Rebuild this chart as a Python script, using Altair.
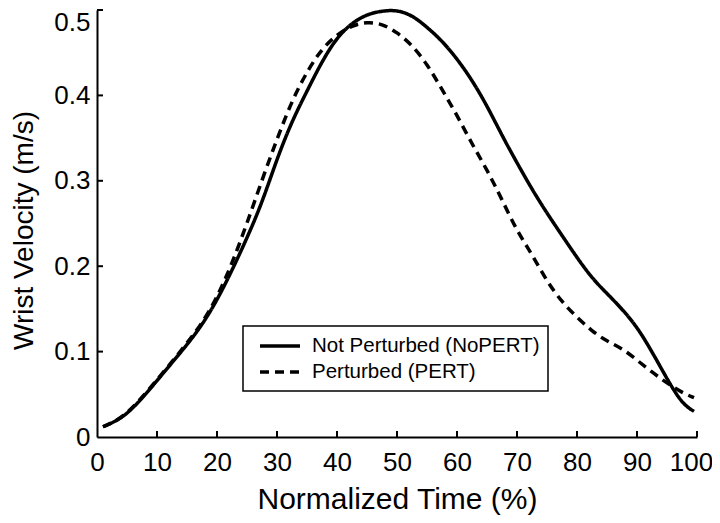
import altair as alt
import pandas as pd

# ---- data ----
series_names = ["Not Perturbed (NoPERT)", "Perturbed (PERT)"]

time_nopert = [1, 3, 5, 7.5, 10, 12.5, 15, 17.5, 20, 22.5, 25, 27.5, 30, 32.5, 35, 37.5,
               40, 42.5, 45, 47.5, 50, 52.5, 55, 57.5, 60, 62.5, 65, 67.5, 70, 72.5, 75,
               77.5, 80, 82.5, 85, 87.5, 90, 92.5, 95, 97.5, 99.5]
vel_nopert = [0.012, 0.018, 0.027, 0.045, 0.066, 0.087, 0.108, 0.131, 0.160, 0.195, 0.233,
              0.274, 0.326, 0.370, 0.405, 0.440, 0.468, 0.485, 0.495, 0.499, 0.500, 0.494,
              0.480, 0.464, 0.443, 0.418, 0.388, 0.353, 0.321, 0.290, 0.262, 0.236, 0.210,
              0.186, 0.168, 0.150, 0.129, 0.100, 0.068, 0.039, 0.030]

time_pert = [1, 3, 5, 7.5, 10, 12.5, 15, 17.5, 20, 22.5, 25, 27.5, 30, 32.5, 35, 37.5,
             40, 42.5, 45, 47.5, 50, 52.5, 55, 57.5, 60, 62.5, 65, 67.5, 70, 72.5, 75,
             77.5, 80, 82.5, 85, 87.5, 90, 92.5, 95, 97.5, 99.5]
vel_pert = [0.012, 0.018, 0.028, 0.046, 0.067, 0.088, 0.110, 0.133, 0.163, 0.203, 0.250,
            0.301, 0.349, 0.394, 0.428, 0.455, 0.471, 0.482, 0.486, 0.484, 0.474, 0.459,
            0.437, 0.407, 0.377, 0.343, 0.313, 0.278, 0.241, 0.214, 0.182, 0.158, 0.140,
            0.124, 0.112, 0.104, 0.090, 0.076, 0.063, 0.052, 0.046]

x_ticks = [0, 10, 20, 30, 40, 50, 60, 70, 80, 90, 100]
y_ticks = [0, 0.1, 0.2, 0.3, 0.4, 0.5]

df = pd.concat([
    pd.DataFrame({"t": time_nopert, "v": vel_nopert, "series": series_names[0]}),
    pd.DataFrame({"t": time_pert, "v": vel_pert, "series": series_names[1]}),
])

FONT = "Liberation Sans"
W, H = 600, 427

x_scale = alt.Scale(domain=[0, 100], nice=False, zero=False)
y_scale = alt.Scale(domain=[0, 0.5], nice=False)

x_axis = alt.Axis(values=x_ticks, title="Normalized Time (%)", labelPadding=12,
                  labelFontSize=26,
                  labelOffset={"condition": {"test": "datum.value >= 100", "value": -6},
                               "value": 0},
                  titleY=71, titleBaseline="alphabetic")
y_axis = alt.Axis(values=y_ticks, title="Wrist Velocity (m/s)", labelPadding=7,
                  labelFontSize=26,
                  labelExpr="datum.value == 0 ? '0' : format(datum.value, '.1f')",
                  labelOffset={"condition": {"test": "datum.value >= 0.5", "value": 12},
                               "value": 0},
                  titleX=-65, titleY=220, titleFontSize=28, titleBaseline="alphabetic")

lines = alt.Chart(df).mark_line(color="black", strokeWidth=3.5, interpolate="basis").encode(
    x=alt.X("t:Q", scale=x_scale, axis=x_axis),
    y=alt.Y("v:Q", scale=y_scale, axis=y_axis),
    strokeDash=alt.StrokeDash(
        "series:N",
        scale=alt.Scale(domain=series_names, range=[[1, 0], [9, 6]]),
        legend=alt.Legend(title=None, orient="none", legendX=146, legendY=316,
                          strokeColor="black", padding=8, symbolOffset=17,
                          symbolType="M-2,0H2", symbolSize=400, symbolStrokeWidth=3.5,
                          symbolStrokeColor="black", labelFont=FONT, labelFontSize=20.5,
                          labelColor="black", labelOffset=20, rowPadding=3,
                          labelLimit=400),
    ),
)

xt = alt.Chart(pd.DataFrame({"t": x_ticks[1:]})).mark_rule(color="black", strokeWidth=2).encode(
    x=alt.X("t:Q", scale=x_scale, axis=x_axis),
    y=alt.value(H),
    y2=alt.value(H - 6),
)

yt = alt.Chart(pd.DataFrame({"v": y_ticks[1:]})).mark_rule(color="black", strokeWidth=2).encode(
    y=alt.Y("v:Q", scale=y_scale, axis=y_axis),
    x=alt.value(0),
    x2=alt.value(6),
)

chart = alt.layer(lines, xt, yt).properties(
    width=W, height=H,
    autosize=alt.AutoSizeParams(type="none"),
    padding={"left": 89, "top": 2, "right": 15, "bottom": 78},
).configure_view(stroke=None).configure_axis(
    grid=False, ticks=False, domainColor="black", domainWidth=2,
    labelFont=FONT, labelColor="black", labelFlush=False,
    labelOverlap=False,
    titleFont=FONT, titleFontSize=30, titleColor="black", titleFontWeight="normal",
).configure_legend(strokeWidth=1.5)

chart.save("out.html", embed_options={"renderer": "svg", "actions": False})
